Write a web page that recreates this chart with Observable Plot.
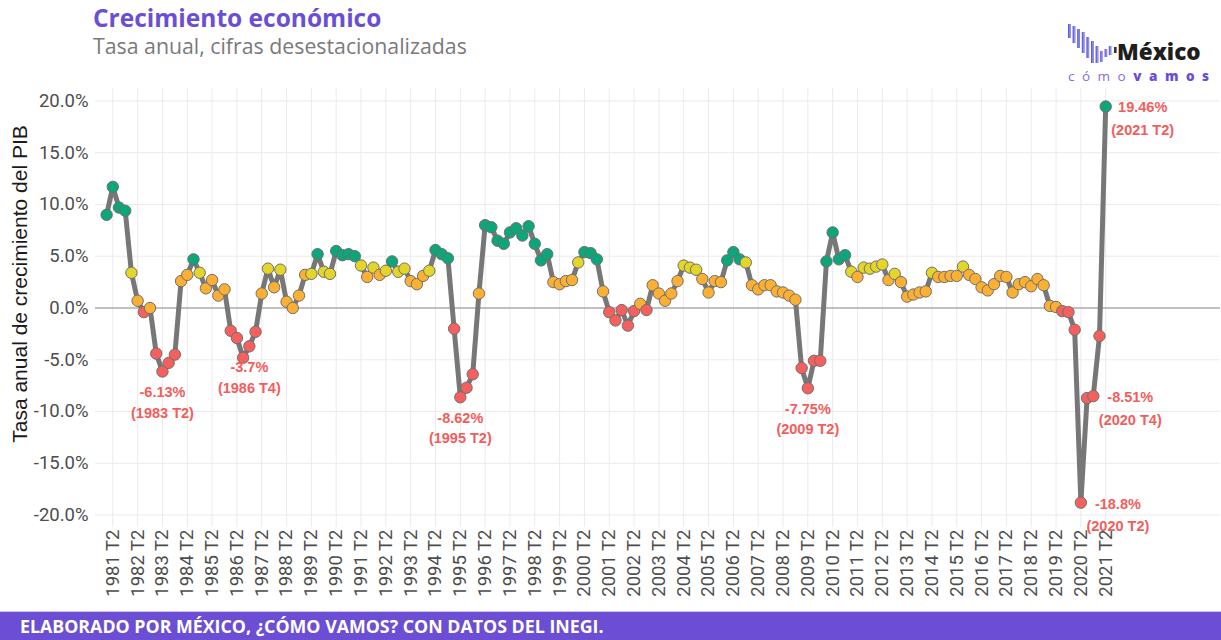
<!DOCTYPE html>
<html><head><meta charset="utf-8">
<script src="https://cdn.jsdelivr.net/npm/d3@7"></script>
<script src="https://cdn.jsdelivr.net/npm/@observablehq/plot@0.6"></script>
<style>
html,body{margin:0;padding:0;background:#fff}
body{width:1221px;height:640px;position:relative;overflow:hidden}
#chart{position:absolute;left:0;top:0}
#title{position:absolute;left:93px;top:1px;font:700 24.5px "Open Sans",sans-serif;color:#6A4FD6;white-space:nowrap}
#subtitle{position:absolute;left:93px;top:31px;font:400 21.3px "Open Sans",sans-serif;color:#7a7a7a;white-space:nowrap}
#ytitle{position:absolute;left:20px;top:284px;transform:translate(-50%,-50%) rotate(-90deg);font:400 21px "Liberation Sans",Arial,sans-serif;color:#1a1a1a;white-space:nowrap}
#footer{position:absolute;left:0;top:611px;width:1221px;height:29px;background:#6B4ED3;border-top:1px solid #C9BFF0;box-sizing:border-box}
#footer span{position:absolute;left:20px;top:2px;font:700 17.8px "Open Sans",sans-serif;color:#fff;white-space:nowrap}
#logo{position:absolute;left:1060px;top:18px;width:160px;height:70px}
</style></head>
<body>
<div id="chart"></div>
<div id="title">Crecimiento económico</div>
<div id="subtitle">Tasa anual, cifras desestacionalizadas</div>
<div id="ytitle">Tasa anual de crecimiento del PIB</div>
<svg id="logo" viewBox="0 0 160 70">
  <defs><linearGradient id="lg" x1="0" x2="1"><stop offset="0" stop-color="#5B3FD5"/><stop offset="0.7" stop-color="#8A9AF0"/><stop offset="1" stop-color="#6B5BE0"/></linearGradient></defs>
  <g fill="url(#lg)">
    <rect x="8" y="6" width="2.8" height="14"/>
    <rect x="12.6" y="8" width="2.8" height="17"/>
    <rect x="17.2" y="11" width="2.8" height="19"/>
    <rect x="21.8" y="14" width="2.8" height="21"/>
    <rect x="26.4" y="19" width="2.8" height="21"/>
    <rect x="31" y="23" width="2.8" height="22"/>
    <rect x="35.6" y="28" width="2.8" height="17"/>
    <rect x="40.2" y="33" width="2.4" height="11"/>
    <rect x="44.6" y="31" width="2.6" height="8"/>
    <rect x="48.8" y="28" width="2.6" height="9"/>
    <rect x="54" y="29" width="2.6" height="6" fill="#333"/>
  </g>
  <text x="57" y="42" font-family="Open Sans, sans-serif" font-weight="800" font-size="22.5" fill="#1e1e1e">México</text>
  <text x="8" y="63" font-family="Open Sans, sans-serif" font-size="13.5" letter-spacing="7.5" fill="#7E6FE0">cómo<tspan font-weight="800" fill="#6A4FD6">vamos</tspan></text>
</svg>
<div id="footer"><span>ELABORADO POR MÉXICO, ¿CÓMO VAMOS? CON DATOS DEL INEGI.</span></div>
<script>
// ---- data ----
const years = d3.range(1981, 2022);
const quarters = ["T1", "T2", "T3", "T4"];
const growth = [
  9.0, 11.7, 9.7, 9.4,      // 1981
  3.4, 0.7, -0.4, 0.0,      // 1982
  -4.4, -6.13, -5.3, -4.5,  // 1983
  2.6, 3.2, 4.7, 3.4,       // 1984
  1.9, 2.7, 1.2, 1.8,       // 1985
  -2.2, -2.9, -4.8, -3.7,   // 1986
  -2.3, 1.4, 3.8, 2.0,      // 1987
  3.7, 0.6, 0.0, 1.2,       // 1988
  3.2, 3.3, 5.2, 3.5,       // 1989
  3.3, 5.5, 5.1, 5.2,       // 1990
  5.0, 4.1, 3.0, 3.9,       // 1991
  3.2, 3.6, 4.5, 3.5,       // 1992
  3.8, 2.6, 2.3, 3.1,       // 1993
  3.6, 5.6, 5.2, 4.8,       // 1994
  -2.0, -8.62, -7.7, -6.4,  // 1995
  1.4, 8.0, 7.8, 6.5,       // 1996
  6.2, 7.3, 7.7, 7.0,       // 1997
  7.9, 6.2, 4.6, 5.2,       // 1998
  2.5, 2.3, 2.6, 2.7,       // 1999
  4.4, 5.4, 5.3, 4.7,       // 2000
  1.6, -0.4, -1.2, -0.2,    // 2001
  -1.7, -0.3, 0.4, -0.2,    // 2002
  2.2, 1.4, 0.7, 1.4,       // 2003
  2.6, 4.1, 3.9, 3.7,       // 2004
  2.8, 1.5, 2.6, 2.5,       // 2005
  4.6, 5.4, 4.7, 4.4,       // 2006
  2.2, 1.8, 2.2, 2.2,       // 2007
  1.6, 1.5, 1.2, 0.8,       // 2008
  -5.8, -7.75, -5.1, -5.1,  // 2009
  4.5, 7.3, 4.7, 5.1,       // 2010
  3.5, 3.0, 3.9, 3.8,       // 2011
  4.0, 4.2, 2.7, 3.3,       // 2012
  2.5, 1.1, 1.3, 1.5,       // 2013
  1.6, 3.4, 3.0, 3.0,       // 2014
  3.1, 3.1, 4.0, 3.2,       // 2015
  2.8, 2.0, 1.7, 2.3,       // 2016
  3.1, 3.0, 1.5, 2.3,       // 2017
  2.5, 2.1, 2.8, 2.2,       // 2018
  0.2, 0.1, -0.3, -0.4,     // 2019
  -2.1, -18.8, -8.7, -8.51, // 2020
  -2.7, 19.46               // 2021
];
const yTicks = [-20, -15, -10, -5, 0, 5, 10, 15, 20];
const belowLabels = ["1983 T2", "1986 T4", "1995 T2", "2009 T2"];
const rightLabels = ["2020 T2", "2020 T4", "2021 T2"];
const colorBreaks = [0, 3.3, 4.5];
const colorRange = ["#F5605E", "#FBB034", "#E3D52A", "#0BA679"];

const periods = years.flatMap(y => quarters.map(q => `${y} ${q}`)).slice(0, growth.length);
const data = periods.map((p, i) => ({period: p, value: growth[i]}));
const xTicks = periods.filter(p => p.endsWith("T2"));
const lbl = d => `${d.value}%\n(${d.period})`;
const below = data.filter(d => belowLabels.includes(d.period));
const right = data.filter(d => rightLabels.includes(d.period));

const chart = Plot.plot({
  width: 1221, height: 610,
  marginTop: 88, marginBottom: 83, marginLeft: 95, marginRight: 1,
  style: {fontFamily: "Roboto, sans-serif", fontSize: "18px", color: "#4d4d4d", background: "transparent"},
  x: {type: "point", domain: periods, range: [103, 1108.3]},
  y: {domain: [-21.2, 21.2]},
  color: {type: "threshold", domain: colorBreaks, range: colorRange},
  marks: [
    Plot.ruleY(yTicks, {stroke: "#ebebeb", strokeWidth: 1}),
    Plot.ruleX(xTicks, {stroke: "#ebebeb", strokeWidth: 1}),
    Plot.ruleY([0], {stroke: "#8c8c8c", strokeWidth: 1}),
    Plot.axisY({ticks: yTicks, tickFormat: d => d.toFixed(1) + "%", tickSize: 0, tickPadding: 7, fontSize: 18.5, label: null}),
    Plot.axisX({ticks: xTicks, tickRotate: -90, tickSize: 0, tickPadding: 2, fontSize: 18.5, label: null}),
    Plot.line(data, {x: "period", y: "value", stroke: "#777", strokeWidth: 5, strokeLinejoin: "round"}),
    Plot.dot(data, {x: "period", y: "value", fill: "value", stroke: "#6f6f6f", strokeWidth: 1, r: 5.7}),
    Plot.text(below, {x: "period", y: "value", text: lbl, lineAnchor: "top", dy: 11, lineHeight: 1.42,
      fill: "#F45D5C", fontWeight: "bold", fontSize: 14.5, fontFamily: "Liberation Sans, Arial, sans-serif"}),
    Plot.text(right, {x: "period", y: "value", text: lbl, lineAnchor: "top", dx: 37, dy: -10, lineHeight: 1.55,
      fill: "#F45D5C", fontWeight: "bold", fontSize: 14.5, fontFamily: "Liberation Sans, Arial, sans-serif"})
  ]
});
document.getElementById("chart").append(chart);
</script>
</body></html>
